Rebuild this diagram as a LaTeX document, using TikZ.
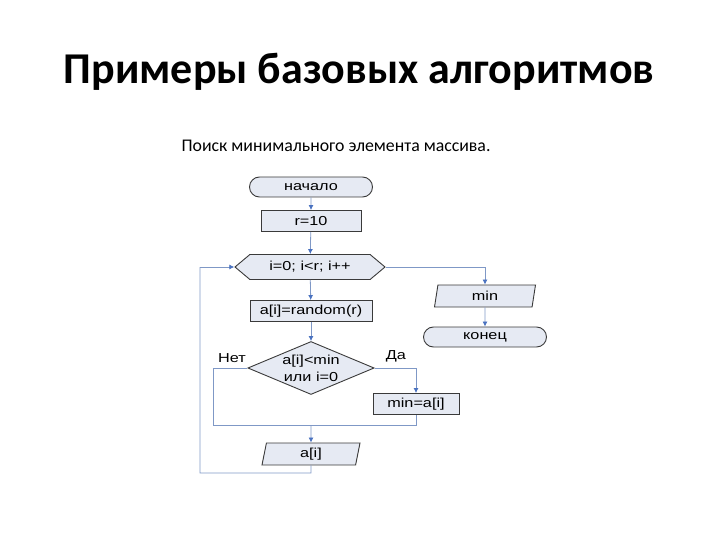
\documentclass[tikz,border=0pt]{standalone}
\usepackage{fontspec}
\setmainfont{Carlito}
\newfontfamily\flowfont[FakeStretch=1.25]{Liberation Sans}
\usetikzlibrary{shapes.geometric,shapes.symbols,shapes.misc,arrows.meta}
\definecolor{shapefill}{HTML}{E6EAF3}
\definecolor{shapeedge}{HTML}{3A3A3A}
\definecolor{linecol}{HTML}{7F98C6}
\definecolor{arrowcol}{HTML}{4A72C0}
\tikzset{
  ffont/.style={font=\flowfont\fontsize{13}{17}\selectfont},
  base/.style={draw=shapeedge, fill=shapefill, line width=0.9pt, ffont, inner sep=0pt},
  term/.style={base, rounded rectangle, minimum width=123pt, minimum height=20pt},
  proc/.style={base, rectangle, minimum width=100pt, minimum height=21pt},
  loopbox/.style={base, signal, signal to=west and east, signal pointer angle=80, minimum width=150pt, minimum height=25pt},
  io/.style={base, trapezium, trapezium left angle=70, trapezium right angle=110, trapezium stretches body, minimum width=100pt, minimum height=22pt},
  cond/.style={base, diamond, aspect=2.6, minimum width=123pt, minimum height=53pt, align=center},
  conn/.style={draw=linecol, line width=0.8pt},
  arr/.style={conn, -{Latex[length=5pt,width=5pt,color=arrowcol]}},
  lbl/.style={ffont}
}
\begin{document}
\begin{tikzpicture}[x=1pt,y=-1pt]
\useasboundingbox (0,0) rectangle (720,540);
\node[font=\bfseries\fontsize{44}{50}\selectfont] (title) at (359,72) {Примеры базовых алгоритмов};
\node[font=\fontsize{17.8}{20}\selectfont] (sub) at (336,146) {Поиск минимального элемента массива.};

\node[term] (start) at (311,187) {начало};
\node[proc] (r10) at (311,221) {r=10};
\node[loopbox] (loop) at (310,267) {i=0; i<r; i++};
\node[proc, minimum width=122pt] (rand) at (311,311) {a[i]=random(r)};
\node[cond] (cond) at (311,368) {a[i]<min\\или i=0};
\node[proc, minimum width=86pt] (mina) at (416,404) {min=a[i]};
\node[io, minimum width=98pt] (out) at (311,454) {a[i]};
\node[io, minimum width=101pt] (minout) at (485,296) {min};
\node[term] (end) at (485,337) {конец};

\coordinate (nleft) at (213,368);
\coordinate (nbot) at (213,425);
\coordinate (join) at (311,425);
\coordinate (jr) at (416,425);
\coordinate (lb) at (311,473);
\coordinate (lbl) at (200,473);
\coordinate (ltl) at (200,267);

\draw[arr] (start) -- (r10);
\draw[arr] (r10) -- (loop);
\draw[arr] (loop) -- (rand);
\draw[arr] (rand) -- (cond);
\draw[arr] (cond.east) -| (mina.north);
\draw[conn] (cond.west) -- (nleft) -- (nbot) -- (jr) -- (mina.south);
\draw[arr] (join) -- (out.north);
\draw[conn] (out.south) -- (lb) -- (lbl) -- (ltl);
\draw[arr] (ltl) -- (loop.west);
\draw[arr] (loop.east) -| (minout.north);
\draw[arr] (minout) -- (end);

\node[lbl, anchor=south] (no) at (232,366) {Нет};
\node[lbl, anchor=south] (yes) at (396,366) {Да};
\end{tikzpicture}
\end{document}
